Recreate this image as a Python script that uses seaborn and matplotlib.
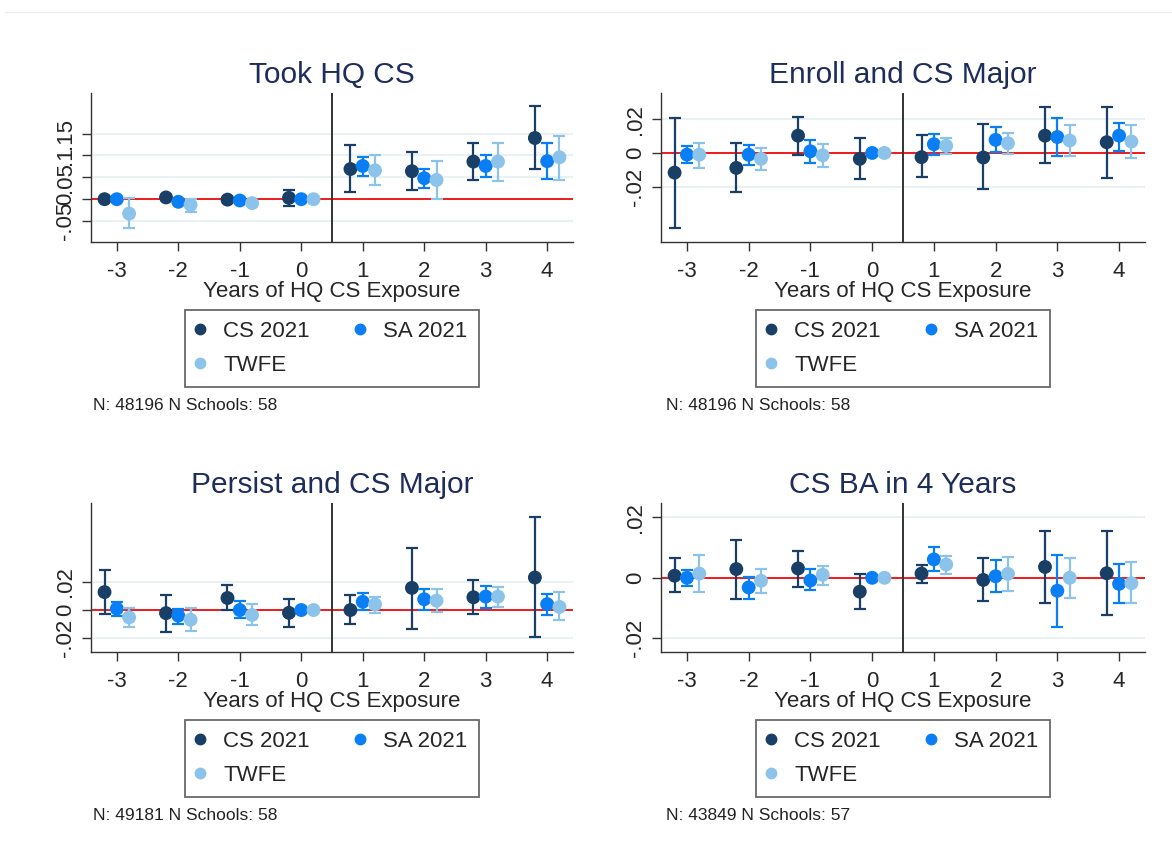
import numpy as np
import pandas as pd
import matplotlib
matplotlib.use("Agg")
import matplotlib.pyplot as plt
from matplotlib.lines import Line2D
import seaborn as sns

sns.set_theme(style="white")
plt.rcParams['font.family'] = ['Liberation Sans', 'DejaVu Sans']

years = [-3, -2, -1, 0, 1, 2, 3, 4]
series_names = ['CS 2021', 'SA 2021', 'TWFE']

# Took HQ CS
took_cs = [0.000, 0.004, -0.001, 0.003, 0.069, 0.064, 0.086, 0.140]
took_cs_lo = [-0.004, 0.000, -0.005, -0.015, 0.017, 0.020, 0.043, 0.068]
took_cs_hi = [0.004, 0.008, 0.003, 0.021, 0.124, 0.108, 0.129, 0.213]
took_sa = [0.000, -0.006, -0.003, 0.000, 0.076, 0.048, 0.076, 0.087]
took_sa_lo = [-0.003, -0.009, -0.006, 0.000, 0.054, 0.025, 0.051, 0.046]
took_sa_hi = [0.003, -0.003, 0.000, 0.000, 0.097, 0.070, 0.102, 0.128]
took_tw = [-0.033, -0.013, -0.009, 0.000, 0.066, 0.044, 0.086, 0.096]
took_tw_lo = [-0.067, -0.029, -0.012, 0.000, 0.032, 0.001, 0.041, 0.043]
took_tw_hi = [0.003, 0.000, -0.006, 0.000, 0.100, 0.087, 0.129, 0.145]

# Enroll and CS Major
enr_cs = [-0.0117, -0.0089, 0.0103, -0.0035, -0.0025, -0.0027, 0.0103, 0.0064]
enr_cs_lo = [-0.0447, -0.0233, -0.0010, -0.0157, -0.0146, -0.0212, -0.0060, -0.0150]
enr_cs_hi = [0.0210, 0.0060, 0.0216, 0.0089, 0.0109, 0.0171, 0.0274, 0.0274]
enr_sa = [-0.0010, -0.0010, 0.0010, 0.0000, 0.0052, 0.0078, 0.0095, 0.0103]
enr_sa_lo = [-0.0060, -0.0072, -0.0060, 0.0000, -0.0010, 0.0006, -0.0019, 0.0010]
enr_sa_hi = [0.0041, 0.0047, 0.0076, 0.0000, 0.0113, 0.0157, 0.0208, 0.0181]
enr_tw = [-0.0010, -0.0035, -0.0014, 0.0000, 0.0043, 0.0058, 0.0074, 0.0068]
enr_tw_lo = [-0.0087, -0.0103, -0.0082, 0.0000, -0.0004, -0.0008, -0.0021, -0.0029]
enr_tw_hi = [0.0062, 0.0031, 0.0054, 0.0000, 0.0089, 0.0117, 0.0167, 0.0165]

# Persist and CS Major
per_cs = [0.0128, -0.0022, 0.0086, -0.0020, 0.0000, 0.0158, 0.0091, 0.0232]
per_cs_lo = [-0.0027, -0.0156, 0.0000, -0.0121, -0.0101, -0.0133, -0.0027, -0.0193]
per_cs_hi = [0.0282, 0.0109, 0.0178, 0.0082, 0.0104, 0.0442, 0.0215, 0.0660]
per_sa = [0.0010, -0.0040, 0.0000, 0.0000, 0.0059, 0.0077, 0.0096, 0.0042]
per_sa_lo = [-0.0042, -0.0096, -0.0057, 0.0000, 0.0000, 0.0000, 0.0017, -0.0035]
per_sa_hi = [0.0059, 0.0010, 0.0067, 0.0000, 0.0121, 0.0153, 0.0170, 0.0116]
per_tw = [-0.0052, -0.0069, -0.0035, 0.0000, 0.0040, 0.0067, 0.0096, 0.0022]
per_tw_lo = [-0.0121, -0.0151, -0.0109, 0.0000, -0.0020, -0.0017, 0.0020, -0.0072]
per_tw_hi = [0.0017, 0.0015, 0.0042, 0.0000, 0.0096, 0.0151, 0.0165, 0.0126]

# CS BA in 4 Years
ba_cs = [0.0007, 0.0029, 0.0031, -0.0046, 0.0014, -0.0007, 0.0036, 0.0015]
ba_cs_lo = [-0.0048, -0.0069, -0.0029, -0.0105, -0.0016, -0.0077, -0.0082, -0.0123]
ba_cs_hi = [0.0064, 0.0126, 0.0090, 0.0014, 0.0044, 0.0067, 0.0156, 0.0156]
ba_sa = [0.0000, -0.0032, -0.0009, 0.0000, 0.0061, 0.0005, -0.0043, -0.0020]
ba_sa_lo = [-0.0028, -0.0069, -0.0041, 0.0000, 0.0021, -0.0048, -0.0162, -0.0085]
ba_sa_hi = [0.0026, 0.0003, 0.0030, 0.0000, 0.0101, 0.0058, 0.0076, 0.0047]
ba_tw = [0.0014, -0.0010, 0.0010, 0.0000, 0.0044, 0.0013, 0.0000, -0.0018]
ba_tw_lo = [-0.0047, -0.0051, -0.0025, 0.0000, 0.0013, -0.0044, -0.0067, -0.0085]
ba_tw_hi = [0.0076, 0.0028, 0.0040, 0.0000, 0.0072, 0.0068, 0.0064, 0.0053]

titles = ['Took HQ CS', 'Enroll and CS Major', 'Persist and CS Major', 'CS BA in 4 Years']
notes = ['N: 48196 N Schools: 58', 'N: 48196 N Schools: 58',
         'N: 49181 N Schools: 58', 'N: 43849 N Schools: 57']
yticks_took = [-0.05, 0, 0.05, 0.1, 0.15]
yticklabels_took = ['-.05', '0', '.05', '.1', '.15']
yticks_small = [-0.02, 0, 0.02]
yticklabels_small = ['-.02', '0', '.02']

colors = ['#1a3f66', '#0a7ff5', '#8cc3ea']
offsets = [-0.2, 0.0, 0.2]

panels = [
    ([took_cs, took_sa, took_tw], [took_cs_lo, took_sa_lo, took_tw_lo], [took_cs_hi, took_sa_hi, took_tw_hi],
     yticks_took, yticklabels_took, (-0.098, 0.243)),
    ([enr_cs, enr_sa, enr_tw], [enr_cs_lo, enr_sa_lo, enr_tw_lo], [enr_cs_hi, enr_sa_hi, enr_tw_hi],
     yticks_small, yticklabels_small, (-0.053, 0.0357)),
    ([per_cs, per_sa, per_tw], [per_cs_lo, per_sa_lo, per_tw_lo], [per_cs_hi, per_sa_hi, per_tw_hi],
     yticks_small, yticklabels_small, (-0.0299, 0.0763)),
    ([ba_cs, ba_sa, ba_tw], [ba_cs_lo, ba_sa_lo, ba_tw_lo], [ba_cs_hi, ba_sa_hi, ba_tw_hi],
     yticks_small, yticklabels_small, (-0.0246, 0.0248)),
]

W, H = 1172, 867
fig = plt.figure(figsize=(W / 100, H / 100), dpi=100)
fig.patch.set_facecolor('white')

# faint top edge of the original graph frame
fig.add_artist(Line2D([5 / W, 1], [1 - 12 / H, 1 - 12 / H], color='#eeeeee', lw=1))

# axes boxes in pixels: left, top, right, bottom
boxes = [(91, 93, 573, 242), (661, 93, 1145, 242), (91, 503, 573, 652), (661, 503, 1145, 652)]
note_pos = [(93, 405), (666, 405), (93, 815), (666, 815)]

for i, (ests, los, his, yt, ytl, ylim) in enumerate(panels):
    l, t, r, b = boxes[i]
    ax = fig.add_axes([l / W, 1 - b / H, (r - l) / W, (b - t) / H])

    rows = []
    for k, name in enumerate(series_names):
        for j, yr in enumerate(years):
            rows.append({'series': name, 'year': yr, 'xpos': yr + offsets[k],
                         'est': ests[k][j], 'lo': los[k][j], 'hi': his[k][j]})
    df = pd.DataFrame(rows)

    for y in yt:
        ax.axhline(y, color='#e8f0f2', lw=1.3, zorder=0)
    ax.axhline(0, color='#ee1c1c', lw=1.4, zorder=1)
    ax.axvline(0.5, color='#333333', lw=1.4, zorder=1)

    for k, name in enumerate(series_names):
        d = df[df['series'] == name]
        ax.errorbar(d['xpos'], d['est'], yerr=[d['est'] - d['lo'], d['hi'] - d['est']],
                    fmt='none', ecolor=colors[k], elinewidth=1.6, capsize=4, capthick=1.6,
                    zorder=2 + 2 * k)
        sns.scatterplot(data=d, x='xpos', y='est', color=colors[k], s=100,
                        edgecolor='none', linewidth=0, ax=ax, zorder=3 + 2 * k, legend=False)

    ax.set_xlim(-3.42, 4.42)
    ax.set_ylim(*ylim)
    ax.set_xticks(years)
    ax.set_xticklabels([str(y) for y in years], fontsize=16)
    ax.set_yticks(yt)
    ax.set_yticklabels(ytl, fontsize=16, rotation=90, va='center')
    ax.tick_params(axis='both', length=6.5, width=1.0, color='#333333', direction='out',
                   left=True, bottom=True)
    ax.tick_params(axis='x', pad=7.5)
    ax.tick_params(axis='y', pad=4.5)
    for side in ['top', 'right']:
        ax.spines[side].set_visible(False)
    for side in ['left', 'bottom']:
        ax.spines[side].set_color('#333333')
        ax.spines[side].set_linewidth(1.0)
    ax.set_xlabel('Years of HQ CS Exposure', fontsize=16, labelpad=-1)
    ax.set_ylabel('')
    ax.set_title(titles[i], fontsize=21.5, color='#1e2d5a', pad=7)

    # column-first fill: CS / TWFE in column one, SA in column two
    order = [0, 2, 1]
    handles = [Line2D([], [], ls='none', marker='o', markersize=7.5, color=colors[k]) for k in order]
    labels = [series_names[k] for k in order]
    leg = ax.legend(handles, labels, ncol=2, loc='upper center',
                    bbox_to_anchor=(0.5, -(310 - 242) / 149), fontsize=16, frameon=True,
                    fancybox=False, borderpad=0.5, handlelength=0.3, handletextpad=0.9,
                    columnspacing=2.1, labelspacing=0.58, borderaxespad=0)
    leg.get_frame().set_edgecolor('#444444')
    leg.get_frame().set_linewidth(1.3)

    nx, ny = note_pos[i]
    fig.text(nx / W, 1 - ny / H, notes[i], fontsize=12.5, va='center', ha='left', color='#222222')

fig.savefig('out.png', dpi=100, facecolor='white')
